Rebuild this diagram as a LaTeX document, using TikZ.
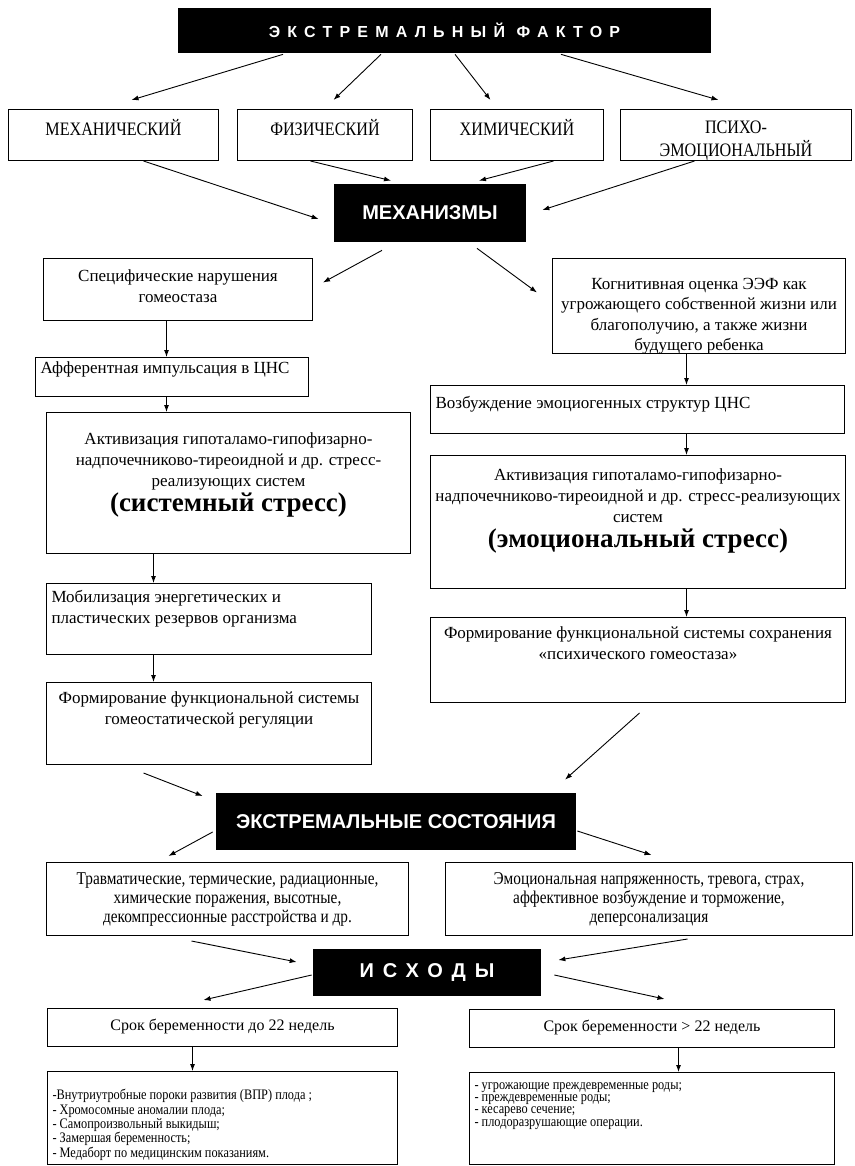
\documentclass[tikz,border=0pt]{standalone}
\usepackage{fontspec}
\setmainfont{Liberation Serif}
\newfontfamily\narrowserif{Liberation Serif}[FakeStretch=0.85]
\newfontfamily\headsans{Liberation Sans}
\newfontfamily\spacedsans{Liberation Sans}[LetterSpace=45]
\usetikzlibrary{arrows.meta}
\newcommand{\cellc}[4]{\parbox[c][#2pt][t]{#1pt}{\vspace*{#3pt}\centering\strut #4\par}}
\newcommand{\celll}[4]{\parbox[c][#2pt][t]{#1pt}{\vspace*{#3pt}\raggedright\leftskip=5pt\strut #4\par}}

\begin{document}
\begin{tikzpicture}[x=1pt, y=-1pt,
    box/.style = {draw, line width=1pt, inner sep=0pt, anchor=north west},
    head/.style = {fill=black, draw=black, double=white, double distance=1.2pt,
      line width=0.7pt, text=white, inner sep=0pt},
    arr/.style = {-{Latex[length=7pt,width=5pt]}, line width=0.9pt},
    body/.style = {font=\fontsize{17}{20.5}\selectfont},
    stress/.style = {font=\fontsize{17}{21}\selectfont},
    cond/.style = {font=\narrowserif\fontsize{19}{20}\selectfont},
    condtext/.style = {font=\narrowserif\fontsize{18}{19}\selectfont},
    small/.style = {font=\narrowserif\fontsize{14.5}{12.75}\selectfont}]
  \path[use as bounding box, fill=white] (0,0) rectangle (854,1166);

  \node[head, minimum width=535pt, minimum height=47pt,
    font=\spacedsans\bfseries\fontsize{16}{18}\selectfont] (fac) at (444.5,30.5) {ЭКСТРЕМАЛЬНЫЙ ФАКТОР};

  \node[box, cond] (mech) at (8,109) {\cellc{210}{51}{10}{МЕХАНИЧЕСКИЙ}};
  \node[box, cond] (phys) at (237,109) {\cellc{175}{51}{10}{ФИЗИЧЕСКИЙ}};
  \node[box, cond] (chem) at (430,109) {\cellc{173}{51}{10}{ХИМИЧЕСКИЙ}};
  \node[box, cond] (psy) at (620,109) {\cellc{231}{51}{10}{ПСИХО-\\ЭМОЦИОНАЛЬНЫЙ}};

  \node[head, minimum width=194pt, minimum height=60pt,
    font=\headsans\bfseries\fontsize{20}{24}\selectfont] (mechs) at (430,213) {МЕХАНИЗМЫ};

  \node[box, body] (spec) at (43,258) {\cellc{269}{62}{9}{Специфические нарушения\\гомеостаза}};
  \node[box, body] (aff) at (35,357) {\celll{273}{39}{1.5}{Афферентная импульсация в ЦНС}};
  \node[box, stress] (actL) at (46,412) {\cellc{364}{141}{17.3}{Активизация гипоталамо-гипофизарно-\\надпочечниково-тиреоидной и др. стресс-\\реализующих систем\par
    \fontsize{27}{25}\selectfont\bfseries (системный стресс)}};
  \node[box, body] (mobL) at (46,583) {\celll{325}{71}{5}{Мобилизация энергетических и\\пластических резервов организма}};
  \node[box, body] (formL) at (46,682) {\cellc{325}{82}{7}{Формирование функциональной системы\\гомеостатической регуляции}};

  \node[box, body] (cog) at (552,258) {\cellc{293}{95}{16.6}{Когнитивная оценка ЭЭФ как\\угрожающего собственной жизни или\\благополучию, а также жизни\\будущего ребенка}};
  \node[box, body] (exc) at (430,385) {\celll{414}{48}{9}{Возбуждение эмоциогенных структур ЦНС}};
  \node[box, stress] (actR) at (430,455) {\cellc{415}{133}{10.3}{Активизация гипоталамо-гипофизарно-\\надпочечниково-тиреоидной и др. стресс-реализующих\\систем\par
    \fontsize{27}{25}\selectfont\bfseries (эмоциональный стресс)}};
  \node[box, body] (formR) at (430,617) {\cellc{415}{85}{7}{Формирование функциональной системы сохранения\\«психического гомеостаза»}};

  \node[head, minimum width=362pt, minimum height=59pt,
    font=\headsans\bfseries\fontsize{20}{24}\selectfont] (es) at (396,821.5) {ЭКСТРЕМАЛЬНЫЕ СОСТОЯНИЯ};

  \node[box, condtext] (trav) at (46,862) {\cellc{362}{73}{8.7}{Травматические, термические, радиационные,\\химические поражения, высотные,\\декомпрессионные расстройства и др.}};
  \node[box, condtext] (emo) at (445,862) {\cellc{407}{73}{8.7}{Эмоциональная напряженность, тревога, страх,\\аффективное возбуждение и торможение,\\деперсонализация}};

  \node[head, minimum width=230pt, minimum height=49pt,
    font=\spacedsans\bfseries\fontsize{20}{24}\selectfont] (out) at (427,972.5) {ИСХОДЫ};

  \node[box, font=\fontsize{16}{20}\selectfont] (srokL) at (47,1008) {\cellc{350}{38}{8}{Срок беременности до 22 недель}};
  \node[box, font=\fontsize{16}{20}\selectfont] (srokR) at (469,1009) {\cellc{365}{38}{8}{Срок беременности > 22 недель}};

  \node[box, small] (listL) at (47,1071) {\celll{350}{93}{18}{-Внутриутробные пороки развития (ВПР) плода ;\\- Хромосомные аномалии плода;\\- Самопроизвольный выкидыш;\\- Замершая беременность;\\- Медаборт по медицинским показаниям.}};
  \node[box, font=\narrowserif\fontsize{14.5}{12.3}\selectfont] (listR) at (469,1072) {\celll{365}{92}{8}{- угрожающие преждевременные роды;\\- преждевременные роды;\\- кесарево сечение;\\- плодоразрушающие операции.}};

  \draw[arr] ([xshift=-161.5pt]fac.south) -- ([xshift=18pt,yshift=9pt]mech.north);
  \draw[arr] ([xshift=-63.5pt]fac.south) -- ([xshift=8.5pt,yshift=9pt]phys.north);
  \draw[arr] ([xshift=10.5pt]fac.south) -- ([xshift=-26.5pt,yshift=9pt]chem.north);
  \draw[arr] ([xshift=116.5pt]fac.south) -- ([xshift=-17.5pt,yshift=9pt]psy.north);

  \draw[arr] ([xshift=30pt]mech.south) -- ([xshift=-14pt,yshift=-6pt]mechs.west);
  \draw[arr] ([xshift=-14.5pt]phys.south) -- ([xshift=-39pt,yshift=2pt]mechs.north);
  \draw[arr] ([xshift=36.5pt]chem.south) -- ([xshift=49pt,yshift=2pt]mechs.north);
  \draw[arr] ([xshift=-41.5pt]psy.south) -- ([xshift=15pt,yshift=3pt]mechs.east);

  \draw[arr] ([xshift=-48pt,yshift=-7pt]mechs.south) -- ([xshift=10pt,yshift=7pt]spec.east);
  \draw[arr] ([xshift=47pt,yshift=-5pt]mechs.south) -- ([xshift=-15pt,yshift=13.5pt]cog.west);

  \draw[arr] ([xshift=-11.5pt]spec.south) -- ([xshift=-5.5pt]aff.north);
  \draw[arr] ([xshift=-5.5pt]aff.south) -- ([xshift=-62pt]actL.north);
  \draw[arr] ([xshift=-75pt]actL.south) -- ([xshift=-55.5pt]mobL.north);
  \draw[arr] ([xshift=-55.5pt]mobL.south) -- ([xshift=-55.5pt]formL.north);
  \draw[arr] ([xshift=-65.5pt,yshift=-8pt]formL.south) -- ([xshift=-12pt,yshift=25.5pt]es.west);

  \draw[arr] ([xshift=-12.5pt]cog.south) -- ([xshift=49pt]exc.north);
  \draw[arr] ([xshift=49pt]exc.south) -- ([xshift=48.5pt]actR.north);
  \draw[arr] ([xshift=48.5pt]actR.south) -- ([xshift=48.5pt]formR.north);
  \draw[arr] ([xshift=1.5pt,yshift=-10pt]formR.south) -- ([xshift=169pt,yshift=12pt]es.north);

  \draw[arr] ([xshift=-2pt,yshift=-10.5pt]es.west) -- ([xshift=-59pt,yshift=6pt]trav.north);
  \draw[arr] ([yshift=-9.5pt]es.east) -- ([xshift=2.5pt,yshift=7pt]emo.north);
  \draw[arr] ([xshift=-36pt,yshift=-5pt]trav.south) -- ([xshift=-15pt,yshift=10.5pt]out.west);
  \draw[arr] ([xshift=38.5pt,yshift=-3pt]emo.south) -- ([xshift=16pt,yshift=12.5pt]out.east);

  \draw[arr] ([yshift=-2.5pt]out.west) -- ([xshift=-19pt,yshift=8pt]srokL.north);
  \draw[arr] ([xshift=12pt,yshift=-2.5pt]out.east) -- ([xshift=12.5pt,yshift=10pt]srokR.north);
  \draw[arr] ([xshift=-30pt]srokL.south) -- ([xshift=-30pt]listL.north);
  \draw[arr] ([xshift=26.5pt]srokR.south) -- ([xshift=26.5pt]listR.north);
\end{tikzpicture}
\end{document}
